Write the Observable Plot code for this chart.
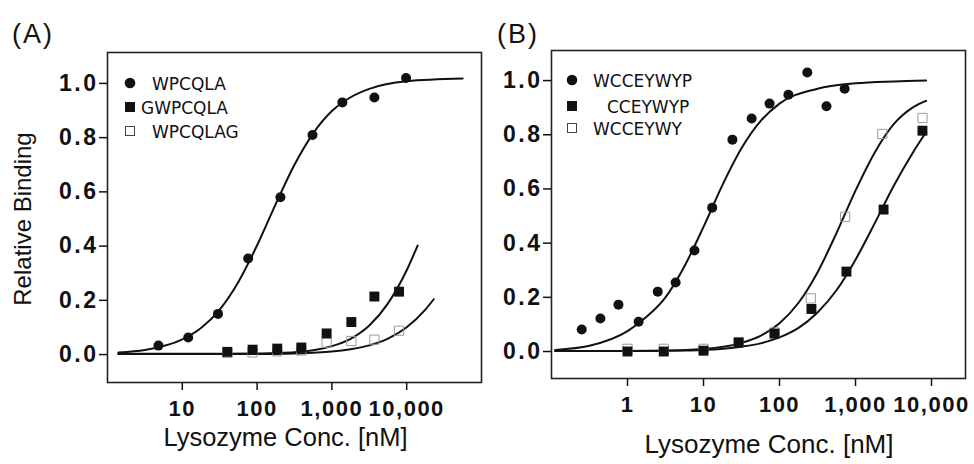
<!DOCTYPE html>
<html><head><meta charset="utf-8">
<script src="https://cdn.jsdelivr.net/npm/d3@7"></script>
<script src="https://cdn.jsdelivr.net/npm/@observablehq/plot@0.6"></script>
<style>
body{margin:0;background:#fff;}
#wrap{position:relative;width:974px;height:464px;overflow:hidden;background:#fff;}
#wrap > svg{position:absolute;top:0;}
g[aria-label="y-axis tick label"] text{letter-spacing:2.5px;}
g[aria-label="x-axis tick label"] text{letter-spacing:1.5px;}
</style></head>
<body><div id="wrap"></div>
<script>
// ---------- Panel A data ----------
const seriesA = ["WPCQLA", "GWPCQLA", "WPCQLAG"];
const concA1 = [4.8, 12, 30, 76, 205, 550, 1380, 3700, 9800];
const bindA1 = [0.033, 0.063, 0.15, 0.354, 0.58, 0.81, 0.93, 0.948, 1.02];
const concA2 = [40, 87, 186, 390, 850, 1820, 3700, 7900];
const bindA2 = [0.01, 0.018, 0.022, 0.026, 0.078, 0.12, 0.214, 0.232];
const concA3 = [40, 87, 186, 390, 850, 1820, 3700, 7900];
const bindA3 = [0.006, 0.008, 0.012, 0.015, 0.044, 0.05, 0.055, 0.088];
// fitted curves
const fitA1x = [1.4, 3.16, 10, 17.8, 31.6, 56.2, 100, 178, 316, 562, 1000, 1778, 3162, 10000, 56000];
const fitA1y = [0.008, 0.017, 0.056, 0.098, 0.166, 0.268, 0.403, 0.556, 0.700, 0.816, 0.898, 0.949, 0.980, 1.008, 1.018];
const fitA2x = [1.4, 10, 31.6, 100, 178, 316, 562, 1000, 1778, 3162, 5623, 10000, 14000];
const fitA2y = [0.003, 0.003, 0.003, 0.004, 0.006, 0.009, 0.016, 0.031, 0.058, 0.107, 0.189, 0.311, 0.402];
const fitA3x = [1.4, 10, 100, 316, 1000, 1778, 3162, 5623, 10000, 17783, 23000];
const fitA3y = [0.002, 0.002, 0.002, 0.004, 0.011, 0.02, 0.034, 0.059, 0.101, 0.166, 0.204];
const xTicksA = [10, 100, 1000, 10000];

// ---------- Panel B data ----------
const seriesB = ["WCCEYWYP", "CCEYWYP", "WCCEYWY"];
const concB1 = [0.25, 0.44, 0.76, 1.4, 2.5, 4.3, 7.6, 13, 24, 43, 74, 131, 232, 415, 720];
const bindB1 = [0.081, 0.122, 0.173, 0.11, 0.221, 0.255, 0.373, 0.531, 0.782, 0.86, 0.915, 0.948, 1.03, 0.905, 0.97];
const concB2 = [1, 3, 10, 29, 86, 263, 760, 2340, 7600];
const bindB2 = [0.0, 0.0, 0.003, 0.033, 0.066, 0.157, 0.295, 0.524, 0.815];
const concB3 = [1, 3, 10, 29, 86, 258, 730, 2250, 7600];
const bindB3 = [0.01, 0.01, 0.01, 0.035, 0.07, 0.196, 0.497, 0.803, 0.862];
const fitB1x = [0.112, 0.316, 1, 1.78, 3.16, 5.62, 10, 17.8, 31.6, 56.2, 100, 316, 1000, 3162, 8500];
const fitB1y = [0.006, 0.021, 0.075, 0.128, 0.2, 0.315, 0.46, 0.615, 0.75, 0.85, 0.915, 0.97, 0.99, 0.997, 1.0];
const fitB23x = [0.112, 1, 3.16, 10, 31.6, 56.2, 100, 178, 316, 562, 1000, 1778, 3162, 5623, 8500];
const fitB2y = [0.002, 0.002, 0.003, 0.006, 0.018, 0.030, 0.052, 0.087, 0.144, 0.226, 0.339, 0.472, 0.61, 0.732, 0.81];
const fitB3y = [0.002, 0.002, 0.003, 0.009, 0.032, 0.058, 0.104, 0.18, 0.292, 0.437, 0.594, 0.733, 0.838, 0.9, 0.925];
const xTicksB = [1, 10, 100, 1000, 10000];

const yTicks = [0, 0.2, 0.4, 0.6, 0.8, 1.0];

const rows = (xs, ys) => xs.map((x, i) => ({x, y: ys[i]}));
const INK = "#111";
const FONT = "Liberation Sans, Arial, Helvetica, sans-serif";

function panel(opts) {
  return Plot.plot({
    width: opts.width, height: 464,
    marginLeft: opts.ml, marginRight: opts.mr, marginTop: opts.mt, marginBottom: opts.mb,
    x: {type: "log", domain: opts.xdomain},
    y: {domain: opts.ydomain},
    style: {fontFamily: FONT, color: INK, background: "transparent", overflow: "visible"},
    marks: [
      Plot.frame({stroke: "#222", strokeWidth: 1.6}),
      Plot.axisY({ticks: yTicks, tickFormat: d => d.toFixed(1), tickSize: 8, tickPadding: 1,
                  fontSize: 23, fontWeight: "bold", fontFamily: FONT, label: null, strokeWidth: 1.5}),
      Plot.axisX({ticks: opts.xticks, tickFormat: d3.format(","), tickSize: 8, tickPadding: 10,
                  fontSize: 22, fontWeight: "bold", fontFamily: FONT, label: null, strokeWidth: 1.5}),
      ...opts.curves.map(c => Plot.line(c, {x: "x", y: "y", curve: "monotone-x", stroke: INK, strokeWidth: 2})),
      Plot.dot(opts.open, {x: "x", y: "y", symbol: "square", r: 5.2, stroke: "#9a9a9a", strokeWidth: 1, fill: "none"}),
      Plot.dot(opts.filled, {x: "x", y: "y", symbol: "square", r: 5.6, fill: INK}),
      Plot.dot(opts.circles, {x: "x", y: "y", symbol: "circle", r: 5, fill: INK})
    ]
  });
}

const wrap = document.getElementById("wrap");

const pA = panel({
  width: 490, ml: 107, mr: 9, mt: 52, mb: 82,
  xdomain: [1, 1e5], ydomain: [-0.103, 1.114], xticks: xTicksA,
  curves: [rows(fitA1x, fitA1y), rows(fitA2x, fitA2y), rows(fitA3x, fitA3y)],
  circles: rows(concA1, bindA1), filled: rows(concA2, bindA2), open: rows(concA3, bindA3)
});
pA.style.left = "0px";
wrap.appendChild(pA);

const pB = panel({
  width: 484, ml: 61, mr: 9, mt: 50, mb: 86,
  xdomain: [0.1, 28000], ydomain: [-0.0996, 1.111], xticks: xTicksB,
  curves: [rows(fitB1x, fitB1y), rows(fitB23x, fitB2y), rows(fitB23x, fitB3y)],
  circles: rows(concB1, bindB1), filled: rows(concB2, bindB2), open: rows(concB3, bindB3)
});
pB.style.left = "490px";
wrap.appendChild(pB);

// ---------- annotations: panel letters, axis titles, legends ----------
const ov = d3.select(wrap).append("svg")
  .attr("width", 974).attr("height", 464)
  .style("left", "0px").style("pointer-events", "none")
  .attr("font-family", FONT).attr("fill", INK);

ov.append("text").attr("x", 12).attr("y", 43).attr("font-size", 27).attr("letter-spacing", 2).text("(A)");
ov.append("text").attr("x", 497).attr("y", 43).attr("font-size", 27).attr("letter-spacing", 2).text("(B)");
ov.append("text").attr("transform", "translate(31,219) rotate(-90)").attr("text-anchor", "middle")
  .attr("font-size", 24).text("Relative Binding");
ov.append("text").attr("x", 285.5).attr("y", 446).attr("text-anchor", "middle").attr("font-size", 25.5).text("Lysozyme Conc. [nM]");
ov.append("text").attr("x", 769).attr("y", 453).attr("text-anchor", "middle").attr("font-size", 26).text("Lysozyme Conc. [nM]");

function legend(labels, symX, rowY, textX) {
  const kinds = ["circle", "filled", "open"];
  labels.forEach((lab, i) => {
    const y = rowY[i];
    if (kinds[i] === "circle") ov.append("circle").attr("cx", symX).attr("cy", y).attr("r", 5.3).attr("fill", INK);
    else if (kinds[i] === "filled") ov.append("rect").attr("x", symX - 5).attr("y", y - 5).attr("width", 10).attr("height", 10).attr("fill", INK);
    else ov.append("rect").attr("x", symX - 4.5).attr("y", y - 4.5).attr("width", 9).attr("height", 9)
      .attr("fill", "none").attr("stroke", "#444").attr("stroke-width", 1);
    ov.append("text").attr("x", textX[i]).attr("y", y + 6.5).attr("font-family", "DejaVu Sans, Verdana, sans-serif")
      .attr("font-size", 17).text(lab);
  });
}
legend(seriesA, 130, [83, 107, 131], [152, 141, 152]);
legend(seriesB, 572, [80, 106, 128], [593, 607, 593]);
</script>
</body></html>
